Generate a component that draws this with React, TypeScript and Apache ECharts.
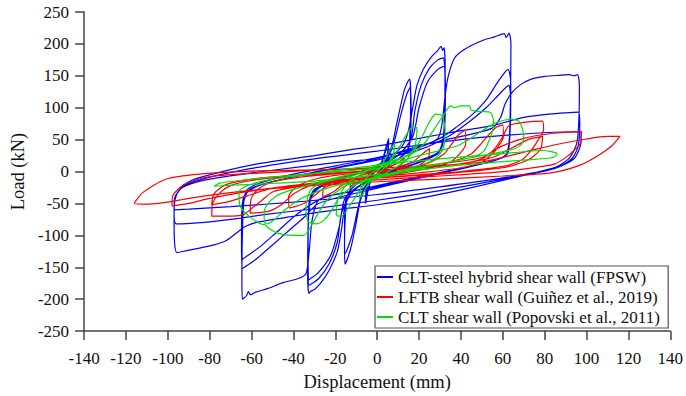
import React, { useEffect, useRef } from "react";
import * as echarts from "echarts";

const xTicks = { min: -140, max: 140, interval: 20 };
const yTicks = { min: -250, max: 250, interval: 50 };

const seriesNames = [
  "CLT-steel hybrid shear wall (FPSW)",
  "LFTB shear wall (Guiñez et al., 2019)",
  "CLT shear wall (Popovski et al., 2011)",
];
const seriesColors = ["#0000ff", "#ff0000", "#00e000"];

// FPSW hysteresis [displacement mm, load kN]
const fpswPoints: [number, number][] = [
  [0, 0], [2, 12], [4, 35], [5.5, 52], [5, 30], [3, 10], [0, -4], [-3, -15], [-5, -40], [-5.5, -50], [-5, -25], [-3, -8], [0, 4],
  [2, 14], [4, 32], [5.5, 48], [5, 26], [3, 8], [0, -6], [-3, -14], [-5, -36], [-5.6, -46], [-5, -22], [-3, -6], [0, 5],
  [4, 20], [7, 40], [9, 70], [11, 100], [13, 128], [14.5, 140], [15.5, 145], [16, 125], [15.8, 70], [15, 38], [12, 25], [6, 10], [0, -6], [-5, -22], [-8, -45], [-10, -80], [-12, -112], [-14, -135], [-15.4, -145], [-15.6, -115], [-15, -60], [-14, -35], [-10, -20], [-5, -8], [0, 8],
  [5, 22], [8, 45], [11, 85], [14, 120], [15.8, 132], [16.2, 100], [15.8, 50], [14, 30], [8, 15], [0, -6], [-6, -24], [-9, -55], [-12, -100], [-15.2, -128], [-15.6, -95], [-15, -45], [-12, -25], [-5, -8], [0, 6],
  [6, 22], [12, 40], [15, 65], [17, 100], [19, 135], [22, 160], [26, 180], [29, 190], [30.5, 196], [31.3, 190], [32, 194], [32.5, 160], [32.2, 90], [31.5, 45], [29, 28], [20, 14], [10, 3], [0, -10], [-10, -26], [-15, -50], [-17, -90], [-19, -125], [-23, -155], [-27, -175], [-30, -185], [-31.5, -187], [-32.6, -191], [-33.2, -160], [-33, -90], [-32.4, -45], [-30, -28], [-20, -14], [-10, -3], [0, 10],
  [10, 26], [16, 50], [18, 95], [21, 135], [25, 162], [29, 175], [31.5, 178], [32.4, 150], [32, 70], [30, 32], [20, 15], [0, -8], [-12, -32], [-17, -65], [-19, -110], [-23, -145], [-28, -168], [-32.5, -178], [-33, -130], [-32.6, -60], [-30, -30], [-20, -15], [0, 8],
  [10, 25], [17, 55], [20, 100], [24, 140], [29, 160], [32, 165], [32.6, 130], [32, 60], [29, 30], [15, 12], [0, -6], [-15, -40], [-18, -85], [-22, -130], [-28, -158], [-32.8, -170], [-33, -110], [-32, -45], [-28, -26], [-15, -10], [0, 10],
  [12, 28], [22, 40], [29, 52], [31, 75], [32.5, 120], [34, 150], [37, 178], [42, 192], [50, 205], [56, 211], [60.7, 216], [61.6, 210], [63, 217], [63.9, 200], [63.7, 120], [63.2, 55], [62, 28], [56, 17], [40, 5], [20, -8], [0, -22], [-15, -33], [-28, -45], [-31, -75], [-32.5, -125], [-34, -160], [-38, -168], [-45, -174], [-52, -183], [-58, -189], [-60.6, -193], [-61.5, -188], [-62.5, -195], [-64.4, -200], [-64.6, -170], [-64.4, -100], [-63.7, -48], [-62, -28], [-55, -17], [-40, -4], [-20, 9], [0, 22],
  [18, 36], [30, 52], [38, 70], [45, 88], [52, 112], [58, 142], [62.5, 160], [63.8, 140], [63.5, 70], [62.3, 28], [52, 14], [30, -3], [0, -26], [-28, -50], [-35, -72], [-42, -92], [-50, -115], [-57, -135], [-62, -147], [-64.4, -152], [-64.8, -115], [-64.2, -55], [-61, -28], [-45, -12], [-20, 5], [0, 18],
  [20, 34], [34, 55], [44, 78], [52, 100], [58, 120], [62.8, 135], [63.8, 110], [63.2, 50], [61, 24], [45, 8], [20, -10], [0, -24], [-25, -40], [-38, -66], [-48, -95], [-56, -118], [-62, -132], [-64.6, -138], [-64.8, -90], [-63.8, -40], [-58, -24], [-40, -8], [-20, 6], [0, 20],
  [20, 40], [40, 55], [55, 68], [59, 85], [61, 105], [64, 122], [68, 135], [73, 144], [80, 149], [88, 151], [92, 152], [94, 150], [95.7, 152], [96.6, 135], [96.4, 85], [95.4, 45], [92, 22], [86, 8], [70, -6], [44, -26], [20, -42], [0, -52], [-20, -60], [-40, -70], [-58, -80], [-63, -86], [-66, -93], [-72, -108], [-78, -115], [-85, -120], [-91, -124], [-95.7, -127], [-96.8, -110], [-97, -70], [-96.6, -45], [-95, -31], [-90, -16], [-81, -6], [-57, 12], [-30, 25], [-11, 35], [0, 40],
  [20, 52], [40, 64], [55, 72], [64, 80], [72, 86], [82, 90], [90, 92], [96, 93], [96.8, 75], [96, 40], [93, 20], [85, 5], [60, -12], [30, -30], [0, -45], [-30, -58], [-55, -68], [-70, -75], [-84, -80], [-96, -82], [-97, -65], [-96.4, -40], [-93, -24], [-85, -13], [-60, 5], [-30, 20], [0, 32],
  [30, 46], [55, 55], [75, 60], [90, 62], [97.5, 62], [97.2, 42], [94, 20], [85, 5], [60, -10], [30, -24], [0, -36], [-40, -48], [-70, -55], [-90, -59], [-97, -60], [-96.8, -42], [-93, -25], [-80, -12], [-50, 2], [-20, 14], [0, 20],
];

// LFTB hysteresis [displacement mm, load kN]
const lftbPoints: [number, number][] = [
  [0, 0], [5, 6], [10, 14], [13, 22], [12, 12], [8, 4], [0, -4], [-5, -9], [-10, -16], [-13, -25], [-12, -14], [-8, -6], [0, 0],
  [10, 6], [17, 15], [21, 26], [25, 36], [24.5, 22], [20, 10], [12, 2], [0, -6], [-10, -12], [-17, -22], [-21, -32], [-26, -40], [-25.5, -25], [-20, -12], [-10, -4], [0, 0],
  [15, 6], [25, 14], [32, 28], [36, 45], [39, 58], [42, 65], [42.3, 43], [40, 30], [35, 15], [25, 5], [10, -3], [0, -8], [-15, -15], [-25, -25], [-30, -38], [-35, -50], [-42, -57], [-42.3, -40], [-39, -25], [-32, -14], [-20, -6], [0, 0],
  [20, 8], [35, 15], [45, 28], [50, 45], [54, 60], [57, 70], [60, 73], [60.3, 54], [58, 40], [56, 31], [50, 15], [40, 6], [20, -2], [0, -8], [-20, -14], [-32, -22], [-40, -35], [-45, -50], [-50, -60], [-55, -64], [-60.6, -65], [-60.4, -45], [-57, -28], [-50, -16], [-35, -8], [-15, -2], [0, 2],
  [20, 6], [40, 12], [50, 20], [56, 35], [60, 55], [63, 72], [70, 77], [79, 79], [79.5, 65], [77, 50], [74, 35], [69, 18], [60, 8], [40, 0], [20, -5], [0, -10], [-20, -16], [-40, -25], [-50, -32], [-55, -45], [-60, -58], [-64, -68], [-72, -70], [-79, -70], [-78.6, -50], [-75, -33], [-70, -22], [-60, -14], [-40, -7], [-20, -2], [0, 2],
  [30, 8], [55, 22], [65, 38], [72, 50], [79, 55], [78, 35], [72, 18], [60, 6], [30, -4], [0, -10], [-30, -18], [-50, -26], [-62, -38], [-72, -48], [-79, -52], [-78, -35], [-72, -20], [-55, -10], [-30, -4], [0, 1],
  [30, 12], [50, 22], [59, 39], [70, 52], [84, 60], [97.5, 63], [97.2, 45], [94, 33], [90.5, 23], [85, 12], [79, 8], [60, 0], [30, -7], [0, -13], [-30, -20], [-50, -26], [-65, -33], [-80, -42], [-90, -50], [-98, -54], [-97.6, -38], [-92, -20], [-80, -8], [-60, -3], [-30, 2], [0, 6],
  [20, 8], [50, 15], [72, 32], [85, 42], [100, 51], [110, 55], [116, 55], [112, 40], [106, 26], [97, 10], [83, -2], [60, -7], [30, -12], [0, -16], [-30, -22], [-55, -28], [-75, -35], [-90, -42], [-100, -48], [-109, -51], [-116, -50], [-112, -33], [-101, -12], [-85, -4], [-57, 1], [-20, 3], [0, 4],
];

// CLT (Popovski) hysteresis [displacement mm, load kN]
const cltPoints: [number, number][] = [
  [0, 0], [4, 20], [7, 38], [8.5, 45], [7.5, 25], [4, 8], [0, -5], [-4, -18], [-7, -36], [-8.5, -42], [-7.5, -22], [-4, -6], [0, 3],
  [6, 15], [10, 35], [14, 58], [17, 70], [19, 68], [18, 40], [14, 18], [8, 5], [0, -10], [-6, -20], [-10, -38], [-14, -58], [-17, -70], [-19.5, -68], [-18.5, -40], [-14, -18], [-8, -5], [0, 8],
  [10, 18], [18, 35], [22, 58], [25, 78], [28, 90], [31, 88], [32.5, 62], [31, 32], [25, 15], [10, 0], [0, -10], [-10, -20], [-18, -40], [-22, -62], [-25, -75], [-29, -82], [-33, -78], [-34, -55], [-32, -30], [-27, -18], [-10, -5], [0, 10],
  [15, 25], [22, 42], [27, 65], [31, 85], [34, 100], [35, 103], [37, 100], [40, 103], [44, 103], [45, 96], [50, 94], [54, 93], [55.5, 80], [55, 62], [53, 45], [51, 32], [45, 22], [30, 12], [10, 0], [0, -8], [-15, -22], [-24, -45], [-29, -70], [-32, -88], [-35, -100], [-40, -100], [-48, -96], [-53, -85], [-54, -68], [-53, -54], [-48, -38], [-40, -28], [-20, -10], [0, 5],
  [20, 25], [38, 40], [46, 55], [53, 70], [58, 78], [64, 82], [68, 78], [70, 56], [69, 43], [65, 35], [50, 25], [30, 12], [0, -10], [-20, -22], [-35, -40], [-44, -60], [-50, -78], [-54, -83], [-60, -73], [-65.5, -54], [-66, -32], [-62, -22], [-50, -12], [-30, -3], [0, 10],
  [30, 20], [60, 28], [79, 33], [86, 28], [84, 22], [70, 18], [40, 10], [0, -5], [-30, -15], [-60, -20], [-78, -23], [-75, -18], [-60, -12], [-30, -3], [0, 5],
];

const FONT = "'Liberation Serif', 'Times New Roman', serif";

export default function App() {
  const ref = useRef<HTMLDivElement>(null);
  useEffect(() => {
    if (!ref.current) return;
    const chart = echarts.init(ref.current, undefined, { renderer: "svg" });
    const datasets = [fpswPoints, lftbPoints, cltPoints];
    const axisColor = "#444";
    chart.setOption({
      animation: false,
      backgroundColor: "#fff",
      grid: { left: 73, right: 13, top: 12, bottom: 61, containLabel: false },
      legend: {
        data: seriesNames,
        orient: "vertical",
        left: 375,
        top: 266,
        icon: "rect",
        itemWidth: 16,
        itemHeight: 2,
        itemGap: 2,
        padding: [2, 8, 2, 2],
        borderColor: "#555",
        borderWidth: 1.2,
        backgroundColor: "#fff",
        textStyle: { fontFamily: FONT, fontSize: 17, color: "#111", lineHeight: 18 },
      },
      xAxis: {
        type: "value",
        min: xTicks.min,
        max: xTicks.max,
        interval: xTicks.interval,
        name: "Displacement (mm)",
        nameLocation: "middle",
        nameGap: 40,
        nameTextStyle: { fontFamily: FONT, fontSize: 18.5, color: "#111" },
        axisLine: { onZero: false, lineStyle: { color: axisColor, width: 1.5 } },
        axisTick: { show: true, inside: false, length: 9, lineStyle: { color: axisColor, width: 1.5 } },
        axisLabel: { margin: 19, fontFamily: FONT, fontSize: 17, color: "#111" },
        splitLine: { show: false },
      },
      yAxis: {
        type: "value",
        min: yTicks.min,
        max: yTicks.max,
        interval: yTicks.interval,
        name: "Load (kN)",
        nameLocation: "middle",
        nameGap: 53,
        nameTextStyle: { fontFamily: FONT, fontSize: 18.5, color: "#111" },
        axisLine: { onZero: false, lineStyle: { color: axisColor, width: 1.5 } },
        axisTick: { show: true, inside: false, length: 9, lineStyle: { color: axisColor, width: 1.5 } },
        axisLabel: { margin: 15, fontFamily: FONT, fontSize: 17, color: "#111" },
        splitLine: { show: false },
      },
      series: datasets.map((d, i) => ({
        name: seriesNames[i],
        type: "line",
        data: d,
        color: seriesColors[i],
        showSymbol: false,
        symbol: "none",
        smooth: 0.25,
        clip: true,
        lineStyle: { color: seriesColors[i], width: 1.2 },
        z: 2 + i,
      })),
    });
    return () => chart.dispose();
  }, []);
  return (
    <div
      ref={ref}
      style={{ position: "fixed", left: 0, top: 0, width: 686, height: 396, background: "#fff" }}
    />
  );
}
